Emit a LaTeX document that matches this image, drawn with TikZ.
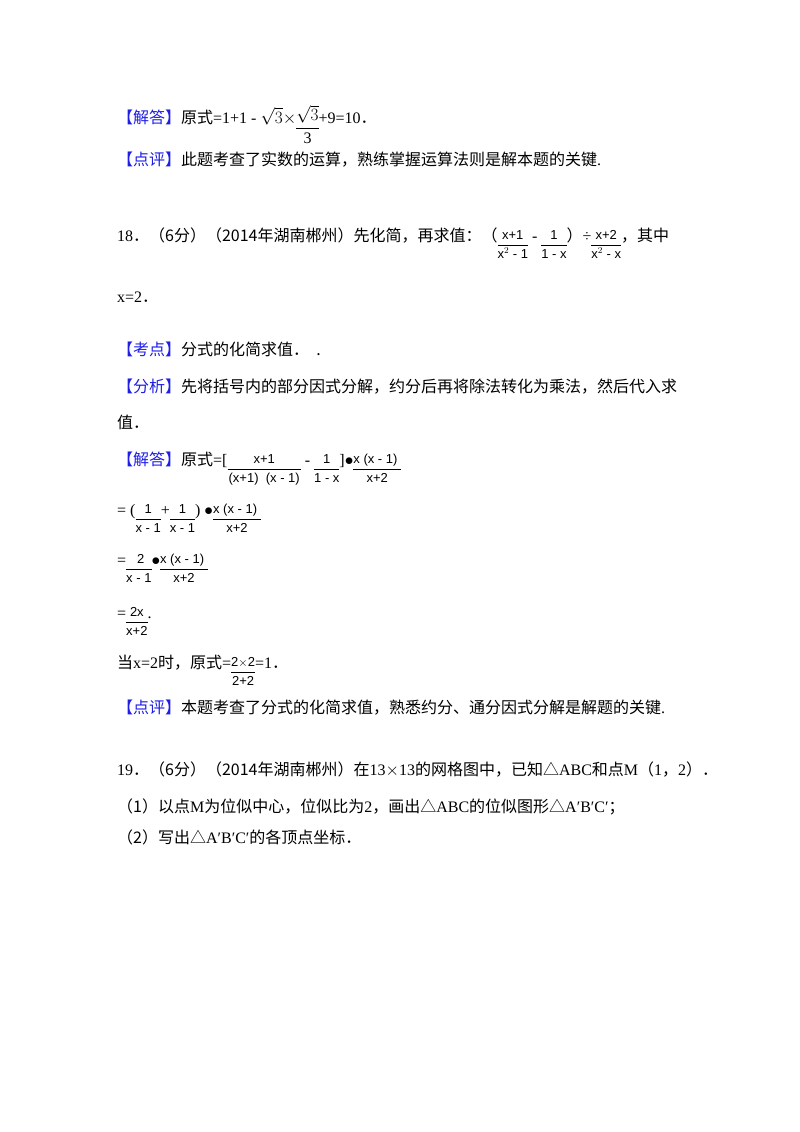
\documentclass[tikz,border=0pt]{standalone}
\usepackage{fontspec}
\setmainfont{Liberation Serif}
\newfontfamily\cjk{Noto Sans CJK SC}
\newfontfamily\fs{Liberation Sans}
\definecolor{kb}{RGB}{30,30,230}
\newcommand\fr[2]{\raisebox{-7.5pt}{\fs\fontsize{13}{15}\selectfont\renewcommand\arraystretch{1.15}\begin{tabular}{@{}c@{}}#1\\\hline\rule{0pt}{13pt}#2\end{tabular}}}
\newcommand\kw[1]{{\color{kb}\cjk 【#1】}}
\newcommand\cp{{\cjk ．}}
\newcommand\cm{{\cjk ，}}
\newcommand\tr{{\cjk △}}
\begin{document}
\begin{tikzpicture}[x=1pt,y=-1pt,every node/.style={anchor=base west,inner sep=0pt,font=\fontsize{16}{20}\selectfont}]
\useasboundingbox[fill=white] (0,0) rectangle (800,1132);
\node (l1) at (117,123) {\kw{解答}{\cjk 原式}=1+1 - $\sqrt{3}$$\times$\raisebox{-9pt}{\renewcommand\arraystretch{1.1}\begin{tabular}{@{}c@{}}$\sqrt{3}$\\\hline 3\end{tabular}}+9=10\cp};
\node (l2) at (117,165) {\kw{点评}{\cjk 此题考查了实数的运算，熟练掌握运算法则是解本题的关键}.};
\node (l3) at (117,241) {18\cp{\cjk （6分）（2014年湖南郴州）先化简，再求值：（}\fr{x+1}{x$^2$ - 1} - \fr{1}{1 - x}{\cjk ）}÷\fr{x+2}{x$^2$ - x}{\cjk ，其中}};
\node (l4) at (117,302) {x=2\cp};
\node (l5) at (117,355) {\kw{考点}{\cjk 分式的化简求值．\ \ .}};
\node (l6) at (117,392) {\kw{分析}{\cjk 先将括号内的部分因式分解，约分后再将除法转化为乘法，然后代入求}};
\node (l7) at (117,428) {\cjk 值．};
\node (l8) at (117,465) {\kw{解答}{\cjk 原式}=[\fr{\qquad x+1\qquad\quad}{(x+1)\ \ (x - 1)}\ - \fr{1}{1 - x}]$\bullet$\fr{x (x - 1)\ \ }{x+2}};
\node (l9) at (117,515) {= (\fr{1}{x - 1}+\fr{1}{x - 1}) $\bullet$\fr{x (x - 1)\ \ }{x+2}};
\node (l10) at (117,565) {=\fr{\ 2\ }{x - 1}$\bullet$\fr{x (x - 1)\ \ }{x+2}};
\node (l11) at (117,618) {=\fr{2x}{x+2}.};
\node (l12) at (117,668) {{\cjk 当}x=2{\cjk 时，原式}=\fr{2$\times$2}{2+2}=1\cp};
\node (l13) at (117,713) {\kw{点评}{\cjk 本题考查了分式的化简求值，熟悉约分、通分因式分解是解题的关键}.};
\node (l14) at (117,775) {19\cp{\cjk （6分）（2014年湖南郴州）在}13$\times$13{\cjk 的网格图中，已知}\tr ABC{\cjk 和点}M{\cjk （}1\cm 2{\cjk ）}\cp};
\node (l15) at (117,812) {{\cjk （1）以点}M{\cjk 为位似中心，位似比为}2\cm{\cjk 画出}\tr ABC{\cjk 的位似图形}\tr A′B′C′{\cjk ；}};
\node (l16) at (117,843) {{\cjk （2）写出}\tr A′B′C′{\cjk 的各顶点坐标}\cp};
\end{tikzpicture}
\end{document}
